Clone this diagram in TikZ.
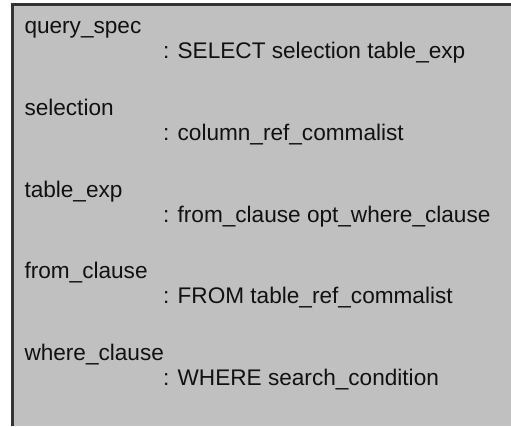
\documentclass[tikz,border=0pt]{standalone}
\usepackage{fontspec}
\setmainfont{Liberation Sans}
\definecolor{boxgray}{HTML}{C0C0C0}
\definecolor{edgegray}{HTML}{333333}
\definecolor{txt}{HTML}{111111}
\begin{document}
\begin{tikzpicture}[x=1pt,y=1pt,
  rule/.style={anchor=base west,inner sep=0pt,outer sep=0pt,text=txt,font=\fontsize{22.6}{26}\selectfont},
  alt/.style={rule}]
\useasboundingbox (0,0) rectangle (511,-426);
\fill[white] (0,0) rectangle (511,-426);
\fill[boxgray] (12,-4) rectangle (511,-426);
\draw[edgegray,line width=3pt] (12,-426) -- (12,-4) -- (511,-4);
\node[rule] (r1) at (24.5,-33) {query\_spec};
\node[alt]  (a1) at (163,-58) {: SELECT selection table\_exp};
\node[rule] (r2) at (24.5,-115) {selection};
\node[alt]  (a2) at (163,-140) {: column\_ref\_commalist};
\node[rule] (r3) at (24.5,-197) {table\_exp};
\node[alt]  (a3) at (163,-222) {: from\_clause opt\_where\_clause};
\node[rule] (r4) at (24.5,-278) {from\_clause};
\node[alt]  (a4) at (163,-303) {: FROM table\_ref\_commalist};
\node[rule] (r5) at (24.5,-360) {where\_clause};
\node[alt]  (a5) at (163,-385) {: WHERE search\_condition};
\end{tikzpicture}
\end{document}
